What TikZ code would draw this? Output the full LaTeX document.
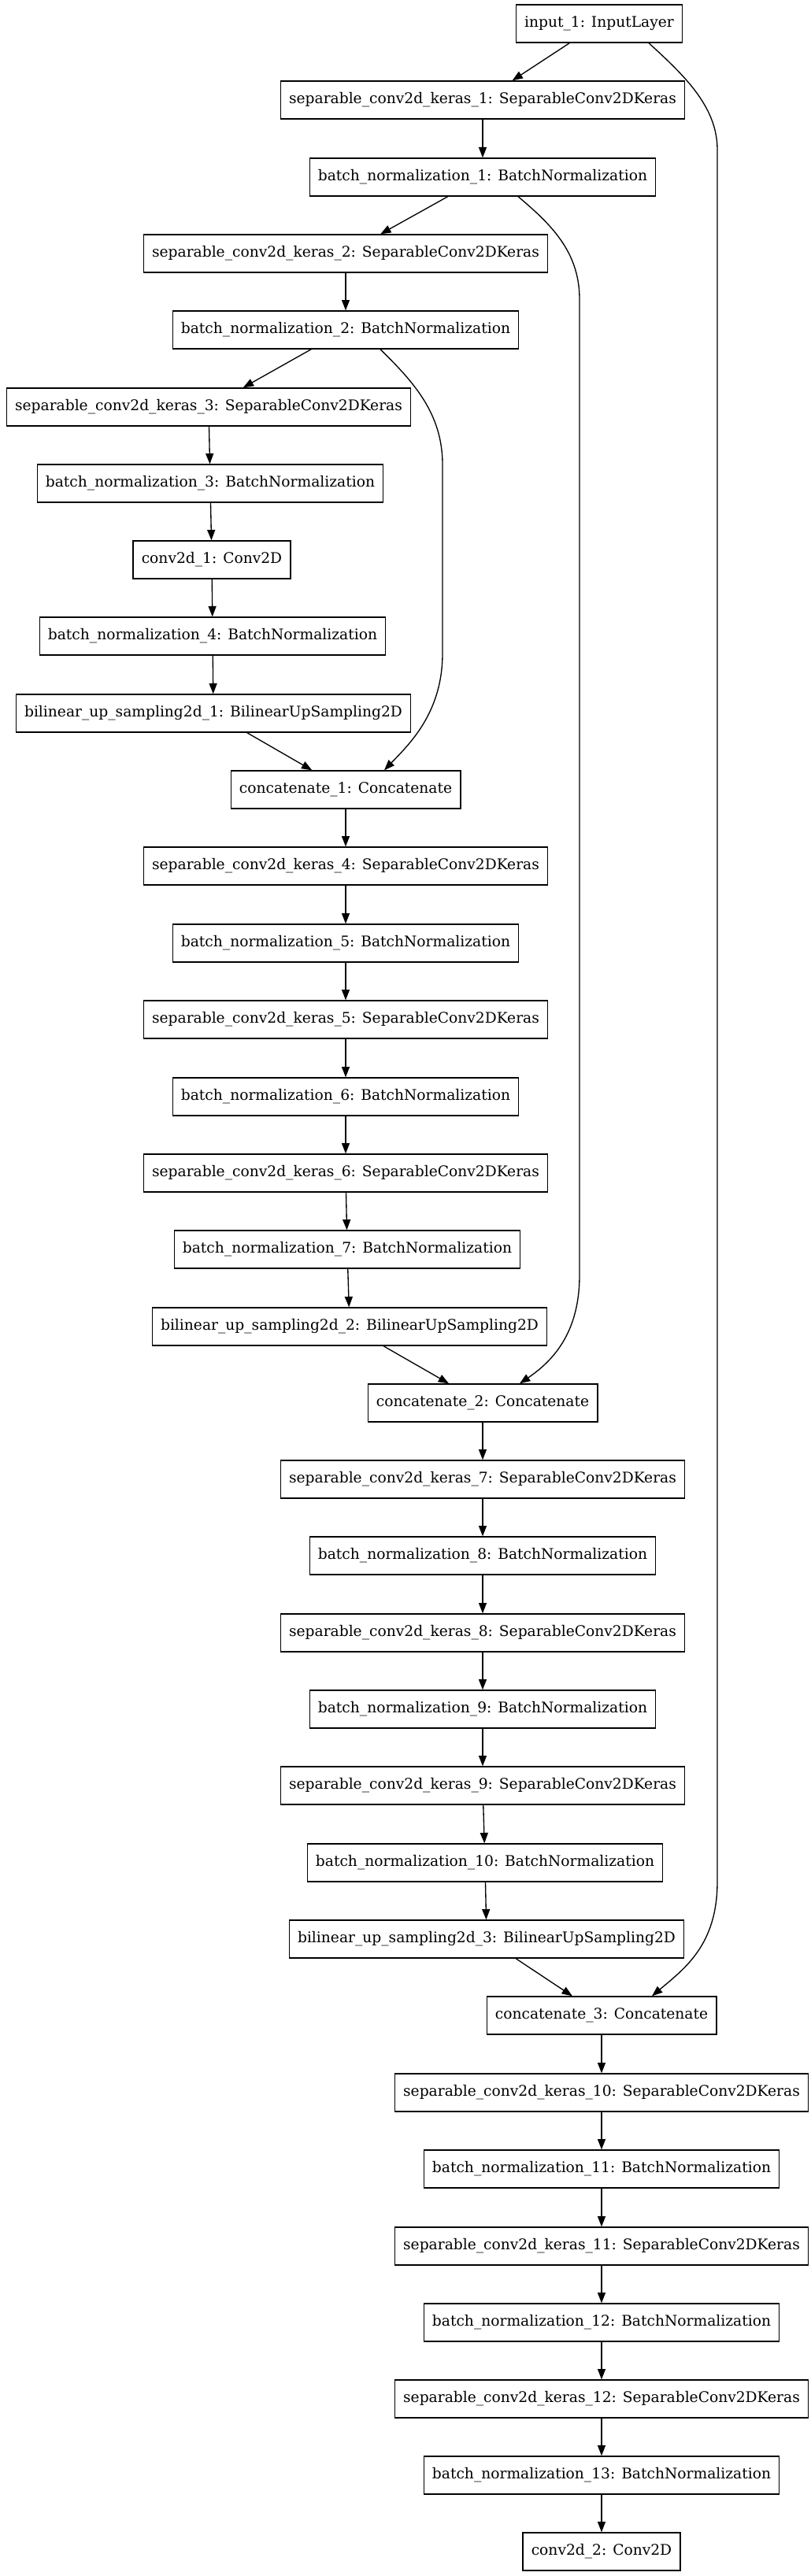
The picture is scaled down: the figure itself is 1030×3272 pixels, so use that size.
\documentclass[tikz,border=0pt]{standalone}
\usepackage{fontspec}
\setmainfont{DejaVu Serif}
\usetikzlibrary{arrows.meta,calc}
\tikzset{
  layer/.style={draw, line width=1pt, minimum height=36pt, inner xsep=8pt, inner ysep=0pt,
    font=\fontsize{14}{16}\selectfont, anchor=center},
  edge/.style={line width=1pt, -{Triangle[length=10pt,width=7.5pt]}}
}
\begin{document}
\begin{tikzpicture}[x=0.75pt,y=-0.75pt]
\useasboundingbox (0,0) rectangle (1030,3272);
\node[layer] (in1) at (761,30) {input\_1: InputLayer};
\node[layer] (sep1) at (613,127) {separable\_conv2d\_keras\_1: SeparableConv2DKeras};
\node[layer] (bn1) at (613,225) {batch\_normalization\_1: BatchNormalization};
\node[layer] (sep2) at (439,322) {separable\_conv2d\_keras\_2: SeparableConv2DKeras};
\node[layer] (bn2) at (439,419) {batch\_normalization\_2: BatchNormalization};
\node[layer] (sep3) at (265,517) {separable\_conv2d\_keras\_3: SeparableConv2DKeras};
\node[layer] (bn3) at (267,614) {batch\_normalization\_3: BatchNormalization};
\node[layer] (conv1) at (269,711) {conv2d\_1: Conv2D};
\node[layer] (bn4) at (270,808) {batch\_normalization\_4: BatchNormalization};
\node[layer] (bil1) at (271,906) {bilinear\_up\_sampling2d\_1: BilinearUpSampling2D};
\node[layer] (cat1) at (439,1003) {concatenate\_1: Concatenate};
\node[layer] (sep4) at (439,1100) {separable\_conv2d\_keras\_4: SeparableConv2DKeras};
\node[layer] (bn5) at (439,1198) {batch\_normalization\_5: BatchNormalization};
\node[layer] (sep5) at (439,1295) {separable\_conv2d\_keras\_5: SeparableConv2DKeras};
\node[layer] (bn6) at (439,1393) {batch\_normalization\_6: BatchNormalization};
\node[layer] (sep6) at (439,1490) {separable\_conv2d\_keras\_6: SeparableConv2DKeras};
\node[layer] (bn7) at (441,1587) {batch\_normalization\_7: BatchNormalization};
\node[layer] (bil2) at (444,1685) {bilinear\_up\_sampling2d\_2: BilinearUpSampling2D};
\node[layer] (cat2) at (613,1782) {concatenate\_2: Concatenate};
\node[layer] (sep7) at (613,1879) {separable\_conv2d\_keras\_7: SeparableConv2DKeras};
\node[layer] (bn8) at (613,1976) {batch\_normalization\_8: BatchNormalization};
\node[layer] (sep8) at (613,2074) {separable\_conv2d\_keras\_8: SeparableConv2DKeras};
\node[layer] (bn9) at (613,2171) {batch\_normalization\_9: BatchNormalization};
\node[layer] (sep9) at (613,2268) {separable\_conv2d\_keras\_9: SeparableConv2DKeras};
\node[layer] (bn10) at (616,2366) {batch\_normalization\_10: BatchNormalization};
\node[layer] (bil3) at (618,2463) {bilinear\_up\_sampling2d\_3: BilinearUpSampling2D};
\node[layer] (cat3) at (764,2560) {concatenate\_3: Concatenate};
\node[layer] (sep10) at (764,2658) {separable\_conv2d\_keras\_10: SeparableConv2DKeras};
\node[layer] (bn11) at (764,2755) {batch\_normalization\_11: BatchNormalization};
\node[layer] (sep11) at (764,2853) {separable\_conv2d\_keras\_11: SeparableConv2DKeras};
\node[layer] (bn12) at (764,2950) {batch\_normalization\_12: BatchNormalization};
\node[layer] (sep12) at (764,3047) {separable\_conv2d\_keras\_12: SeparableConv2DKeras};
\node[layer] (bn13) at (764,3144) {batch\_normalization\_13: BatchNormalization};
\node[layer] (conv2) at (764,3241) {conv2d\_2: Conv2D};
\foreach \a/\b in {in1/sep1,sep1/bn1,bn1/sep2,sep2/bn2,bn2/sep3,sep3/bn3,bn3/conv1,conv1/bn4,bn4/bil1,bil1/cat1,
  cat1/sep4,sep4/bn5,bn5/sep5,sep5/bn6,bn6/sep6,sep6/bn7,bn7/bil2,bil2/cat2,
  cat2/sep7,sep7/bn8,bn8/sep8,sep8/bn9,bn9/sep9,sep9/bn10,bn10/bil3,bil3/cat3,
  cat3/sep10,sep10/bn11,bn11/sep11,sep11/bn12,bn12/sep12,sep12/bn13,bn13/conv2}
  \draw[edge] (\a) -- (\b);
\draw[edge] ($(in1.south)+(63,0)$) .. controls (868,95) and (911,135) .. (911,190) -- (911,2390)
  .. controls (911,2470) and (870,2500) .. ($(cat3.north)+(64,0)$);
\draw[edge] ($(bn1.south)+(45,0)$) .. controls (700,285) and (736,320) .. (736,380) -- (736,1620)
  .. controls (736,1695) and (700,1730) .. ($(cat2.north)+(47,0)$);
\draw[edge] ($(bn2.south)+(44,0)$) .. controls (525,485) and (562,525) .. (562,590) -- (562,830)
  .. controls (562,905) and (520,945) .. ($(cat1.north)+(49,0)$);
\end{tikzpicture}
\end{document}
